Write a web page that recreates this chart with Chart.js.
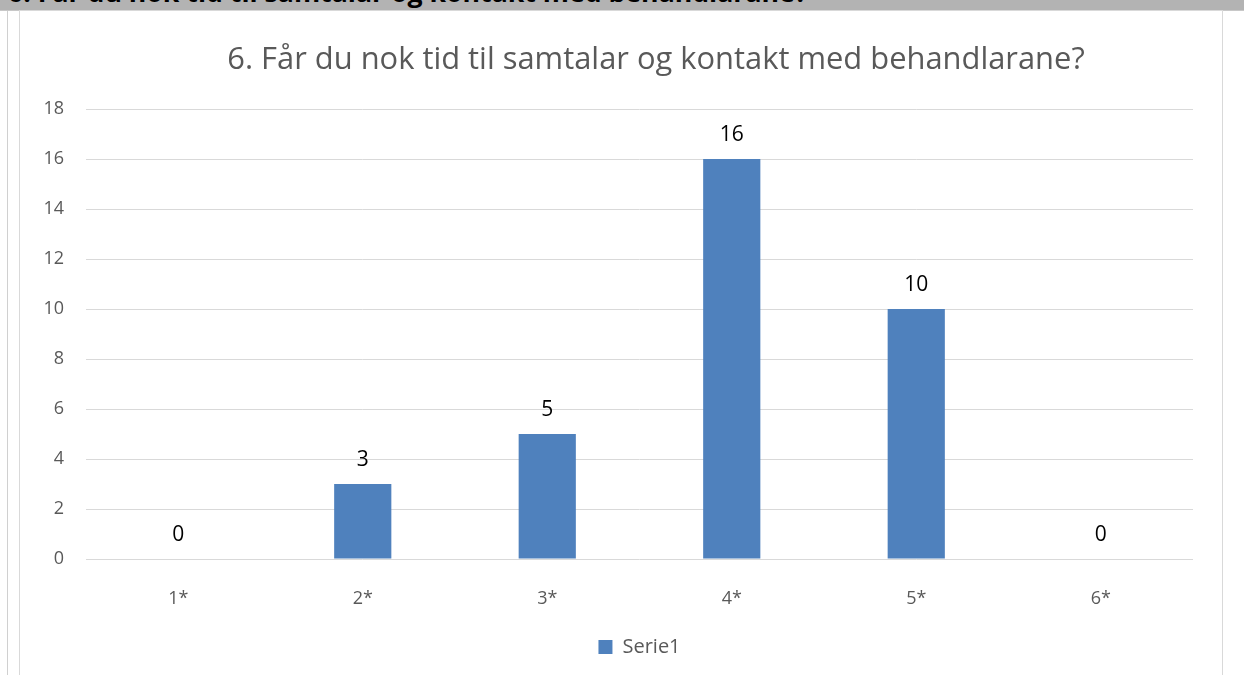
<!DOCTYPE html>
<html>
<head>
<meta charset="utf-8">
<script src="https://cdn.jsdelivr.net/npm/chart.js@4"></script>
<style>
  html, body { margin: 0; padding: 0; background: #fff; }
  body { width: 1244px; height: 675px; position: relative; overflow: hidden; font-family: "Open Sans", sans-serif; }
  #header { position: absolute; left: 0; top: 0; width: 1244px; height: 10px; background: #b3b3b3; overflow: hidden; border-bottom: 1px solid #c8c8c8; }
  #header span { position: absolute; left: 8px; top: -20px; font-weight: bold; font-family: "Open Sans", sans-serif; color: #000; white-space: nowrap; }
  #outerline { position: absolute; left: 7px; top: 11px; width: 1px; height: 664px; background: #d0d0d0; }
  #frame { position: absolute; left: 19px; top: 10px; width: 1204px; height: 670px; border: 1px solid #d9d9d9; box-sizing: border-box; border-bottom: none; background: #fff; }
  #wrap { position: absolute; left: 21px; top: 11px; width: 1200px; height: 664px; }
</style>
</head>
<body>
<div id="header"><span id="htext">6. Får du nok tid til samtalar og kontakt med behandlarane?</span></div>
<div id="outerline"></div>
<div id="frame"></div>
<div id="wrap"><canvas id="c" width="1200" height="664"></canvas></div>
<script>
const chartTitle = "6. Får du nok tid til samtalar og kontakt med behandlarane?";
const categories = ["1*", "2*", "3*", "4*", "5*", "6*"];
const seriesName = "Serie1";
const seriesValues = [0, 3, 5, 16, 10, 0];
const yTicks = [0, 2, 4, 6, 8, 10, 12, 14, 16, 18];

// fit header font to target width
(function () {
  const span = document.getElementById('htext');
  const mctx = document.createElement('canvas').getContext('2d');
  mctx.font = 'bold 20px "Open Sans", sans-serif';
  const w = mctx.measureText(span.textContent).width;
  const size = 20 * 800 / w;
  span.style.fontSize = size + 'px';
  span.style.lineHeight = size + 'px';
  span.style.top = (3 - 0.888 * size) + 'px';
})();

const titleDraw = {
  id: 'titleDraw',
  afterDraw(chart) {
    const ctx = chart.ctx;
    ctx.save();
    ctx.font = '28px "Open Sans", sans-serif';
    const w = ctx.measureText(chartTitle).width;
    const size = 28 * 858 / w;
    ctx.font = size + 'px "Open Sans", sans-serif';
    ctx.fillStyle = '#595959';
    ctx.textAlign = 'center';
    ctx.textBaseline = 'middle';
    ctx.fillText(chartTitle, 635, 49);
    ctx.restore();
  }
};

const valueLabels = {
  id: 'valueLabels',
  afterDatasetsDraw(chart) {
    const ctx = chart.ctx;
    const meta = chart.getDatasetMeta(0);
    ctx.save();
    ctx.font = '21px "Open Sans", sans-serif';
    ctx.fillStyle = '#000';
    ctx.textAlign = 'center';
    ctx.textBaseline = 'middle';
    meta.data.forEach((bar, i) => {
      ctx.fillText(String(chart.data.datasets[0].data[i]), bar.x, bar.y - 24);
    });
    ctx.restore();
  }
};

new Chart(document.getElementById('c'), {
  type: 'bar',
  data: {
    labels: categories,
    datasets: [{
      label: seriesName,
      data: seriesValues,
      backgroundColor: '#4f81bd',
      borderWidth: 0,
      categoryPercentage: 1,
      barPercentage: 0.31
    }]
  },
  options: {
    responsive: false,
    animation: false,
    devicePixelRatio: 1,
    layout: { padding: { left: 0, right: 28, top: 98, bottom: 8 } },
    plugins: {
      title: { display: false },
      legend: {
        display: true,
        position: 'bottom',
        fullSize: false,
        labels: {
          color: '#595959',
          font: { family: '"Open Sans", sans-serif', size: 20 },
          boxWidth: 14,
          boxHeight: 14,
          padding: 1
        }
      },
      tooltip: { enabled: false }
    },
    scales: {
      x: {
        afterFit(scale) { scale.height = 77; },
        grid: { display: false, drawTicks: false },
        border: { display: false },
        ticks: {
          color: '#595959',
          font: { family: '"Open Sans", sans-serif', size: 18 },
          padding: 29
        }
      },
      y: {
        min: 0,
        max: 18,
        afterBuildTicks(scale) { scale.ticks = yTicks.map(v => ({ value: v })); },
        afterFit(scale) { scale.width = 65; },
        grid: { color: '#d9d9d9', lineWidth: 1, drawTicks: false },
        border: { display: false },
        ticks: {
          color: '#595959',
          font: { family: '"Open Sans", sans-serif', size: 18 },
          padding: 22
        }
      }
    }
  },
  plugins: [valueLabels, titleDraw]
});
</script>
</body>
</html>
